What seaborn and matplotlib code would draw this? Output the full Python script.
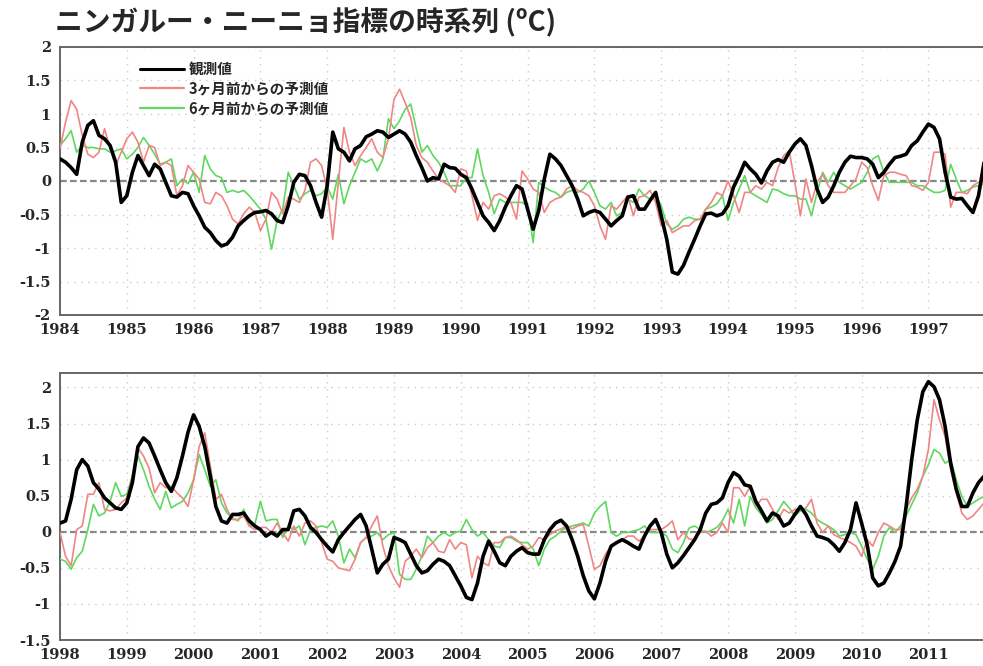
import numpy as np
import pandas as pd
import matplotlib
matplotlib.use("Agg")
import matplotlib.pyplot as plt
import seaborn as sns

# monthly values, Jan..Dec per row
years_top = list(range(1984, 1998))
years_bot = list(range(1998, 2012))

obs_top = [
    0.33, 0.28, 0.2, 0.1, 0.58, 0.83, 0.9, 0.68, 0.63, 0.53, 0.28, -0.32,
    -0.22, 0.13, 0.38, 0.23, 0.08, 0.25, 0.18, -0.02, -0.22, -0.24, -0.17, -0.19,
    -0.37, -0.52, -0.69, -0.77, -0.89, -0.97, -0.94, -0.84, -0.67, -0.59, -0.52, -0.47,
    -0.46, -0.44, -0.49, -0.59, -0.62, -0.37, -0.02, 0.1, 0.08, -0.07, -0.32, -0.54,
    -0.07, 0.73, 0.48, 0.43, 0.3, 0.48, 0.53, 0.66, 0.7, 0.75, 0.73, 0.65,
    0.7, 0.75, 0.7, 0.58, 0.38, 0.2, 0.0, 0.05, 0.03, 0.25, 0.2, 0.19,
    0.1, 0.05, -0.12, -0.32, -0.52, -0.62, -0.74, -0.59, -0.39, -0.22, -0.07, -0.12,
    -0.42, -0.72, -0.44, 0.03, 0.4, 0.33, 0.23, 0.08, -0.07, -0.27, -0.52, -0.47,
    -0.44, -0.47, -0.57, -0.67, -0.59, -0.52, -0.24, -0.22, -0.42, -0.42, -0.29, -0.17,
    -0.52, -0.87, -1.36, -1.39, -1.26, -1.06, -0.87, -0.67, -0.49, -0.48, -0.52, -0.49,
    -0.37, -0.09, 0.08, 0.28, 0.18, 0.1, -0.03, 0.15, 0.28, 0.32, 0.28, 0.43,
    0.55, 0.63, 0.53, 0.23, -0.12, -0.32, -0.24, -0.07, 0.13, 0.28, 0.37, 0.35,
    0.35, 0.33, 0.25, 0.05, 0.13, 0.25, 0.35, 0.37, 0.4, 0.53, 0.6, 0.73,
    0.85, 0.8, 0.63, 0.13, -0.24, -0.27, -0.26, -0.37, -0.47, -0.22, 0.28, 0.45,
]
fc3_top = [
    0.48, 0.88, 1.2, 1.07, 0.68, 0.4, 0.35, 0.43, 0.78, 0.48, 0.23, 0.43,
    0.63, 0.73, 0.58, 0.28, 0.53, 0.5, 0.23, 0.28, 0.23, -0.22, -0.07, 0.23,
    0.13, 0.03, -0.32, -0.34, -0.17, -0.22, -0.37, -0.57, -0.64, -0.49, -0.39, -0.47,
    -0.74, -0.57, -0.17, -0.27, -0.49, -0.24, -0.27, -0.32, -0.14, 0.28, 0.33, 0.23,
    -0.12, -0.87, -0.02, 0.8, 0.43, 0.23, 0.38, 0.5, 0.63, 0.43, 0.35, 0.63,
    1.22, 1.37, 1.17, 0.95, 0.53, 0.35, 0.28, 0.15, 0.03, -0.02, -0.07, -0.17,
    0.18, 0.15, -0.22, -0.59, -0.32, -0.42, -0.22, -0.19, -0.24, -0.32, -0.57, 0.15,
    0.03, -0.12, -0.17, -0.47, -0.32, -0.27, -0.24, -0.12, -0.07, -0.14, -0.17, -0.22,
    -0.37, -0.67, -0.87, -0.37, -0.42, -0.32, -0.22, -0.52, -0.24, -0.22, -0.14, -0.32,
    -0.67, -0.59, -0.77, -0.72, -0.67, -0.67, -0.59, -0.57, -0.42, -0.32, -0.17, -0.22,
    0.0, -0.22, -0.47, -0.17, -0.17, -0.07, -0.12, -0.02, -0.07, 0.2, 0.38, 0.45,
    -0.02, -0.52, 0.03, -0.32, -0.02, 0.1, -0.07, -0.17, -0.17, -0.17, -0.07, 0.03,
    0.28, 0.2, -0.07, -0.29, 0.08, 0.13, 0.13, 0.1, 0.08, -0.07, -0.09, -0.14,
    -0.02, 0.43, 0.43, 0.4, -0.39, -0.17, -0.17, -0.19, -0.07, -0.02, -0.02, -0.05,
]
fc6_top = [
    0.53, 0.63, 0.75, 0.43, 0.53, 0.5, 0.5, 0.48, 0.48, 0.43, 0.45, 0.48,
    0.33, 0.4, 0.5, 0.65, 0.53, 0.4, 0.25, 0.28, 0.33, -0.07, 0.03, -0.04,
    0.13, -0.17, 0.38, 0.18, 0.08, 0.05, -0.17, -0.14, -0.17, -0.14, -0.22, -0.32,
    -0.42, -0.57, -1.02, -0.59, -0.42, 0.13, -0.07, -0.27, -0.19, -0.14, -0.22, -0.19,
    -0.09, -0.27, 0.1, -0.34, -0.07, 0.13, 0.33, 0.28, 0.33, 0.15, 0.33, 0.93,
    0.78, 0.9, 1.07, 1.15, 0.78, 0.43, 0.53, 0.38, 0.28, 0.13, -0.07, -0.07,
    -0.07, 0.05, 0.05, 0.48, 0.08, -0.17, -0.49, -0.27, -0.32, -0.32, -0.32, -0.32,
    -0.37, -0.92, -0.02, -0.09, -0.14, -0.17, -0.24, -0.17, -0.14, -0.17, -0.12, 0.0,
    -0.17, -0.37, -0.42, -0.32, -0.52, -0.47, -0.27, -0.32, -0.12, -0.22, -0.27, -0.22,
    -0.37, -0.64, -0.72, -0.67, -0.57, -0.54, -0.57, -0.57, -0.42, -0.39, -0.34, -0.22,
    -0.59, -0.32, -0.12, 0.08, -0.17, -0.22, -0.27, -0.32, -0.12, -0.14, -0.19, -0.22,
    -0.22, -0.27, -0.27, -0.52, -0.17, 0.13, -0.02, 0.13, -0.02, -0.07, -0.12, -0.07,
    -0.02, 0.13, 0.33, 0.38, 0.13, -0.02, -0.02, -0.02, -0.02, -0.02, -0.07, -0.07,
    -0.12, -0.17, -0.17, -0.14, 0.25, 0.03, -0.17, -0.14, -0.09, -0.07, -0.04, -0.05,
]

obs_bot = [
    0.12, 0.15, 0.45, 0.86, 1.0, 0.91, 0.68, 0.59, 0.47, 0.4, 0.33, 0.31,
    0.4, 0.68, 1.18, 1.3, 1.23, 1.05, 0.86, 0.68, 0.56, 0.75, 1.05, 1.38,
    1.62, 1.46, 1.18, 0.77, 0.35, 0.15, 0.12, 0.24, 0.24, 0.26, 0.15, 0.08,
    0.03, -0.06, -0.01, -0.06, 0.03, 0.03, 0.29, 0.31, 0.22, 0.06, -0.01, -0.11,
    -0.2, -0.28, -0.11, -0.01, 0.08, 0.17, 0.24, 0.08, -0.24, -0.57, -0.45, -0.38,
    -0.08, -0.11, -0.15, -0.31, -0.47, -0.57, -0.54, -0.45, -0.38, -0.41, -0.47, -0.61,
    -0.75, -0.91, -0.94, -0.71, -0.34, -0.13, -0.27, -0.43, -0.47, -0.34, -0.27, -0.22,
    -0.29, -0.31, -0.31, -0.11, 0.03, 0.12, 0.16, 0.08, -0.11, -0.34, -0.61, -0.82,
    -0.93, -0.71, -0.41, -0.2, -0.15, -0.11, -0.15, -0.2, -0.24, -0.06, 0.08, 0.17,
    -0.01, -0.31, -0.5, -0.43, -0.33, -0.22, -0.11, 0.03, 0.26, 0.38, 0.4, 0.47,
    0.68, 0.82, 0.77, 0.65, 0.63, 0.42, 0.29, 0.15, 0.26, 0.22, 0.08, 0.12,
    0.24, 0.35, 0.24, 0.08, -0.06, -0.08, -0.11, -0.18, -0.27, -0.15, 0.03, 0.4,
    0.12, -0.18, -0.64, -0.75, -0.71, -0.57, -0.41, -0.2, 0.35, 1.0, 1.55, 1.94,
    2.08, 2.01, 1.83, 1.46, 0.95, 0.59, 0.35, 0.35, 0.54, 0.68, 0.77, 0.8,
]
fc3_bot = [
    -0.01, -0.34, -0.47, 0.03, 0.08, 0.52, 0.52, 0.68, 0.31, 0.29, 0.31, 0.4,
    0.47, 0.77, 1.16, 1.05, 0.88, 0.54, 0.68, 0.61, 0.63, 0.54, 0.47, 0.35,
    0.72, 1.18, 1.37, 0.91, 0.45, 0.52, 0.31, 0.17, 0.17, 0.22, 0.08, 0.03,
    0.06, 0.06, -0.01, 0.12, -0.01, -0.13, 0.08, -0.06, 0.12, 0.15, 0.08, -0.15,
    -0.38, -0.41, -0.5, -0.52, -0.54, -0.38, -0.15, -0.08, 0.08, 0.22, -0.2, -0.47,
    -0.64, -0.77, -0.41, -0.34, -0.24, -0.36, -0.22, -0.15, -0.27, -0.29, -0.11, -0.24,
    -0.15, -0.18, -0.64, -0.34, -0.43, -0.47, -0.15, -0.15, -0.08, -0.06, -0.11, -0.18,
    -0.24, -0.2, -0.08, -0.11, -0.04, 0.01, 0.04, 0.08, 0.04, 0.08, 0.1, -0.2,
    -0.52, -0.47, -0.31, -0.2, -0.15, -0.11, -0.06, -0.06, -0.13, -0.06, 0.03, 0.03,
    0.03, 0.08, 0.15, -0.11, -0.01, -0.1, -0.11, -0.01, 0.01, -0.06, -0.01, 0.12,
    -0.01, 0.61, 0.61, 0.49, 0.63, 0.35, 0.45, 0.45, 0.31, 0.17, 0.31, 0.26,
    0.31, 0.31, 0.33, 0.45, 0.12, -0.01, 0.08, -0.04, -0.08, -0.11, -0.15, -0.2,
    -0.34, -0.11, -0.2, -0.01, 0.12, 0.08, 0.03, 0.03, 0.31, 0.47, 0.59, 0.77,
    1.14, 1.83, 1.55, 1.32, 0.86, 0.54, 0.26, 0.17, 0.22, 0.31, 0.4, 0.42,
]
fc6_bot = [
    -0.38, -0.41, -0.52, -0.36, -0.27, 0.03, 0.38, 0.22, 0.26, 0.42, 0.68, 0.49,
    0.52, 0.77, 1.05, 0.86, 0.63, 0.45, 0.31, 0.56, 0.33, 0.38, 0.42, 0.54,
    0.72, 1.07, 0.86, 0.63, 0.72, 0.4, 0.26, 0.19, 0.15, 0.31, 0.08, 0.1,
    0.42, 0.15, 0.17, 0.17, -0.08, 0.08, 0.03, 0.08, -0.18, 0.03, 0.06, 0.08,
    0.06, 0.15, -0.06, -0.43, -0.24, -0.36, -0.15, -0.08, -0.06, -0.01, -0.11, -0.04,
    -0.01, -0.59, -0.66, -0.66, -0.52, -0.34, -0.06, -0.15, -0.06, -0.01, -0.06, -0.01,
    0.01, 0.17, 0.03, -0.06, -0.01, -0.11, -0.2, -0.22, -0.08, -0.08, -0.13, -0.15,
    -0.15, -0.24, -0.47, -0.24, -0.11, -0.06, 0.01, 0.06, 0.08, 0.1, 0.12, 0.08,
    0.26, 0.35, 0.42, -0.01, -0.06, -0.01, -0.01, 0.01, 0.03, 0.08, -0.01, -0.01,
    -0.01, -0.06, -0.24, -0.29, -0.15, 0.05, 0.08, 0.03, -0.01, 0.02, 0.06, 0.15,
    0.31, 0.12, 0.45, 0.08, 0.49, 0.33, 0.24, 0.12, 0.17, 0.29, 0.42, 0.33,
    0.22, 0.29, 0.31, 0.26, 0.17, 0.12, 0.08, 0.03, -0.06, -0.04, -0.01, -0.04,
    -0.2, -0.38, -0.52, -0.34, -0.06, 0.06, -0.01, 0.08, 0.22, 0.38, 0.54, 0.77,
    0.93, 1.14, 1.09, 0.95, 1.0, 0.72, 0.49, 0.35, 0.4, 0.45, 0.49, 0.5,
]

labels = ["観測値", "3ヶ月前からの予測値", "6ヶ月前からの予測値"]
title = "ニンガルー・ニーニョ指標の時系列 (ºC)"

sns.set_style("white")
plt.rcParams['font.family'] = ['Noto Sans CJK JP', 'DejaVu Sans']

styles = [("black", 2.6), ("#f08585", 1.2), ("#5fd85f", 1.2)]
tick_font = {"family": "DejaVu Serif", "weight": "bold", "size": 10.5}


def make_frame(years, series):
    t = np.array([y + m / 12.0 for y in years for m in range(12)])
    return pd.DataFrame({"t": t, "obs": series[0], "fc3": series[1], "fc6": series[2]})


def draw_panel(ax, years, series, ylim, yticks, show_legend):
    df = make_frame(years, series)
    # forecasts first, observation on top
    for i in [2, 1, 0]:
        col = ["obs", "fc3", "fc6"][i]
        color, lw = styles[i]
        sns.lineplot(data=df, x="t", y=col, ax=ax, color=color, linewidth=lw,
                     label=labels[i] if show_legend else None, zorder=3 + (2 - i))
    ax.set_xlim(years[0], years[0] + 14)
    ax.set_ylim(*ylim)
    ax.set_xticks(years)
    ax.set_xticklabels([str(y) for y in years], **tick_font)
    ax.set_yticks(yticks)
    ax.set_yticklabels(["%g" % v for v in yticks], **tick_font)
    ax.set_xlabel("")
    ax.set_ylabel("")
    for y in years:
        ax.axvline(y, color="#cccccc", lw=1.0, ls=(0, (1, 4)), zorder=1)
    for v in np.arange(-2, 2.5, 0.5):
        if v != 0:
            ax.axhline(v, color="#cccccc", lw=1.0, ls=(0, (1, 4)), zorder=1)
    ax.axhline(0, color="#888888", lw=1.6, ls=(0, (3, 1.5)), zorder=2)
    for s in ax.spines.values():
        s.set_color("#666666")
        s.set_linewidth(1.4)
    ax.tick_params(axis="both", direction="inout", length=5, width=1.2,
                   color="#666666")
    ax.tick_params(axis="x", pad=3)
    ax.tick_params(axis="y", pad=4)
    if show_legend:
        handles, labs = ax.get_legend_handles_labels()
        idx = [labs.index(l) for l in labels]
        leg = ax.legend([handles[i] for i in idx], labels, loc="upper left",
                        bbox_to_anchor=(0.072, 0.997), frameon=False,
                        handlelength=3.0, handletextpad=0.3, labelspacing=0.25,
                        prop={"family": ["Noto Sans CJK JP", "DejaVu Sans"],
                              "size": 10.5, "weight": "bold"})
        lws = [2.2, 1.6, 1.6]
        for h, w in zip(leg.get_lines(), lws):
            h.set_linewidth(w)
    elif ax.get_legend() is not None:
        ax.get_legend().remove()


fig = plt.figure(figsize=(9.83, 6.66), dpi=100)
W, H = 983.0, 666.0
x0 = 60 / W
wid = 14 * 66.8 / W
ax1 = fig.add_axes([x0, 1 - 315 / H, wid, 268 / H])
ax2 = fig.add_axes([x0, 1 - 640 / H, wid, 267 / H])

draw_panel(ax1, years_top, [obs_top, fc3_top, fc6_top], (-2, 2),
           [-2, -1.5, -1, -0.5, 0, 0.5, 1, 1.5, 2], True)
draw_panel(ax2, years_bot, [obs_bot, fc3_bot, fc6_bot], (-1.5, 2.2),
           [-1.5, -1, -0.5, 0, 0.5, 1, 1.5, 2], False)

fig.text(55 / W, 1 - 22 / H, title, fontsize=20, fontweight="bold",
         va="center", ha="left", family=["Noto Sans CJK JP", "DejaVu Sans"])

fig.savefig("out.png", dpi=100)
